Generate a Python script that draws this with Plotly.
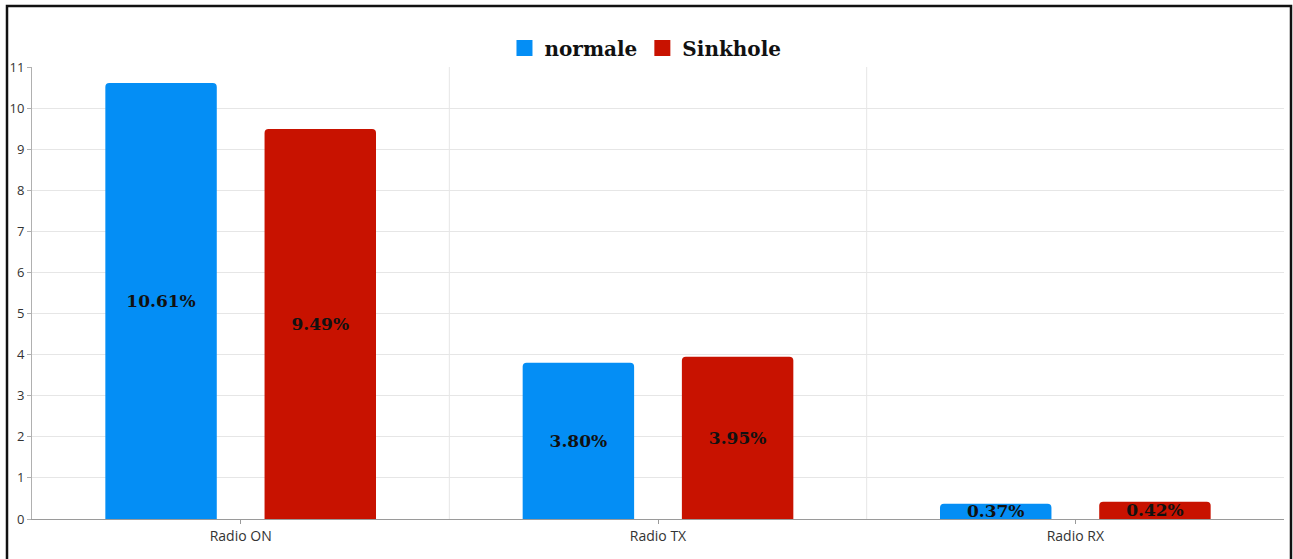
import plotly.graph_objects as go

categories = ["Radio ON", "Radio TX", "Radio RX"]
normale = [10.61, 3.80, 0.37]
sinkhole = [9.49, 3.95, 0.42]
y_ticks = list(range(0, 12))

BLUE = "#048ef5"
RED = "#c81200"

W, H = 1293, 559
ML, MR, MT, MB = 32, 9, 67, 40
PW, PH = W - ML - MR, H - MT - MB

label_font = dict(family="DejaVu Serif", size=17, color="#111111", weight="bold")

fig = go.Figure()
for name, vals, col in [("normale", normale, BLUE), ("Sinkhole", sinkhole, RED)]:
    fig.add_trace(go.Bar(
        x=categories, y=vals, name=name, showlegend=False,
        marker=dict(color=col, cornerradius=4, line=dict(width=0)),
        text=[f"{v:.2f}%" for v in vals],
        textposition="inside", insidetextanchor="middle",
        constraintext="none", textangle=0,
        textfont=label_font, cliponaxis=False,
    ))
    # legend entry with a large square swatch
    fig.add_trace(go.Scatter(
        x=[None], y=[None], mode="markers", name=name,
        marker=dict(symbol="square", size=23, color=col),
    ))

# vertical separators between categories
shapes = [dict(type="line", xref="x", yref="paper", x0=b, x1=b, y0=0, y1=1,
               line=dict(color="#e6e6e6", width=1), layer="below")
          for b in (0.5, 1.5)]
# outer frame
shapes.append(dict(type="rect", xref="paper", yref="paper",
                   x0=(7 - ML) / PW, x1=(1291 - ML) / PW,
                   y0=-0.3, y1=1 + (MT - 6) / PH,
                   line=dict(color="#111111", width=2.5), layer="above"))

fig.update_layout(
    width=W, height=H,
    margin=dict(l=ML, r=MR, t=MT, b=MB),
    paper_bgcolor="white", plot_bgcolor="white",
    barmode="group", bargap=0.237, bargroupgap=0.30,
    uniformtext=dict(minsize=17, mode="show"),
    shapes=shapes,
    legend=dict(orientation="h", x=0.49, xanchor="center",
                y=1 + (MT - 48) / PH, yanchor="middle",
                font=dict(family="DejaVu Serif", size=20, color="#111111", weight="bold"),
                itemwidth=30, tracegroupgap=0, bgcolor="rgba(0,0,0,0)"),
    xaxis=dict(showgrid=False, showline=True, linecolor="#9a9a9a", linewidth=1,
               ticks="outside", ticklen=4, tickcolor="#9a9a9a",
               tickfont=dict(family="Open Sans", size=14, color="#333333"),
               range=[-0.5, 2.5], fixedrange=True),
    yaxis=dict(range=[0, 11], tickvals=y_ticks, showgrid=True, gridcolor="#e6e6e6",
               showline=True, linecolor="#b0b0b0", linewidth=1,
               ticks="outside", ticklen=4, tickcolor="#b0b0b0",
               tickfont=dict(family="Open Sans", size=13, color="#333333"),
               zeroline=False, fixedrange=True),
)

fig.write_html("out.html")
